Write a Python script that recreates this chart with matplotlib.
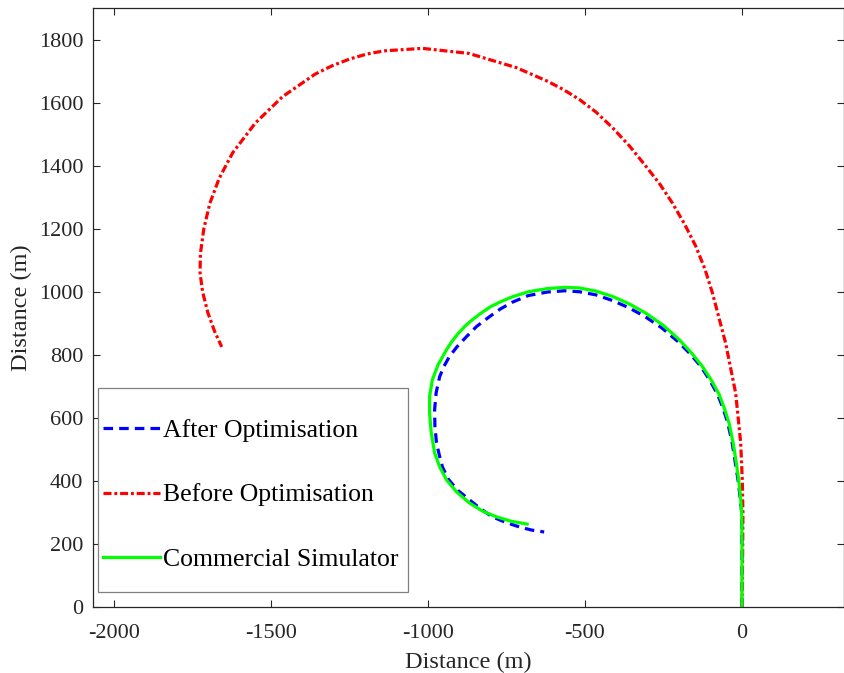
import numpy as np
import matplotlib
matplotlib.use("Agg")
import matplotlib.pyplot as plt
from matplotlib.patches import Rectangle

# trajectories (metres)
after_x = [0, 0, -1, -5, -12, -20, -31, -45, -60, -78, -103, -131, -165, -205,
           -255, -310, -362, -412, -465, -518, -565, -620, -680, -731, -770,
           -804, -845, -878, -908, -932, -950, -963, -974, -979, -978, -973,
           -964, -954, -935, -905, -868, -832, -795, -752, -709, -670, -630]
after_y = [0, 200, 300, 340, 400, 450, 520, 583, 630, 675, 720, 763, 803, 843,
           885, 922, 950, 972, 990, 1000, 1003, 999, 988, 967, 945,
           921, 890, 857, 825, 794, 762, 730, 680, 625, 575, 521,
           482, 444, 405, 370, 340, 311, 286, 268, 254, 244, 238]

before_x = [0, 2, 3, 1, -4, -20, -52, -94, -118, -147, -183, -222, -262, -306,
            -358, -412, -465, -518, -570, -620, -719, -870, -1018, -1140, -1195,
            -1250, -1305, -1360, -1463, -1550, -1622, -1665, -1695, -1714, -1725,
            -1726, -1718, -1701, -1680, -1657]
before_y = [0, 150, 300, 403, 520, 678, 837, 996, 1072, 1144, 1215, 1282, 1342, 1398,
            1462, 1520, 1570, 1610, 1642, 1668, 1711, 1756, 1772, 1764, 1754,
            1738, 1717, 1690, 1619, 1535, 1441, 1360, 1280, 1200, 1120,
            1060, 1000, 933, 875, 825]

comm_x = [0, 0, -1, -4, -10, -17, -28, -41, -56, -73, -98, -126, -160, -200,
          -250, -306, -360, -412, -465, -518, -565, -620, -680, -731, -765,
          -800, -830, -859, -883, -905, -924, -941, -968, -986, -995, -995,
          -990, -979, -963, -941, -908, -868, -826, -782, -735, -684]
comm_y = [0, 200, 300, 340, 400, 450, 520, 583, 630, 675, 720, 763, 805, 848,
          893, 932, 962, 985, 1002, 1012, 1014, 1010, 1000, 984, 970,
          953, 933, 911, 890, 866, 842, 816, 768, 721, 668, 616,
          555, 489, 445, 403, 364, 330, 304, 286, 272, 263]

labels = ["After Optimisation", "Before Optimisation", "Commercial Simulator"]

plt.rcParams['font.family'] = ['Liberation Serif', 'DejaVu Serif']

fig = plt.figure(figsize=(8.45, 6.73), dpi=100)
ax = fig.add_axes([93 / 845, 66 / 673, 751 / 845, 599 / 673])

ink = '#262626'
lw = 2.3
ax.plot(after_x, after_y, color='#0000ff', lw=lw, dashes=(3.0, 1.9), label=labels[0])
ax.plot(before_x, before_y, color='#ff0000', lw=lw, dashes=(2.5, 0.9, 0.9, 0.9), label=labels[1])
ax.plot(comm_x, comm_y, color='#00ff00', lw=lw, label=labels[2])

ax.set_xlim(-2067, 325)
ax.set_ylim(0, 1900)
ax.set_xticks([-2000, -1500, -1000, -500, 0])
ax.set_yticks(np.arange(0, 1801, 200))
ax.set_xticklabels(['-2000', '-1500', '-1000', '-500', '0'])

ax.tick_params(direction='in', length=5, width=0.8, colors=ink, labelsize=16,
               top=True, right=True)
ax.tick_params(axis='x', pad=12)
ax.tick_params(axis='y', pad=7)
for s in ax.spines.values():
    s.set_color(ink)
    s.set_linewidth(0.9)

ax.set_xlabel('Distance (m)', fontsize=17.5, color=ink, labelpad=6.5)
ax.set_ylabel('Distance (m)', fontsize=17.5, color=ink, labelpad=5)

# legend entries, boxed by a separate frame like the reference
leg = ax.legend(loc='center left', bbox_to_anchor=(103 / 845, 1 - 495 / 673),
                bbox_transform=fig.transFigure, fontsize=18.5, frameon=False,
                handlelength=2.2, handletextpad=0.15, borderpad=0,
                labelspacing=1.6, borderaxespad=0)
leg.set_zorder(6)
frame = Rectangle((98 / 845, 1 - 592 / 673), 310 / 845, 204 / 673,
                  transform=fig.transFigure, facecolor='white',
                  edgecolor='#808080', lw=0.9, zorder=5)
ax.add_artist(frame)

fig.savefig('out.png', dpi=100)
